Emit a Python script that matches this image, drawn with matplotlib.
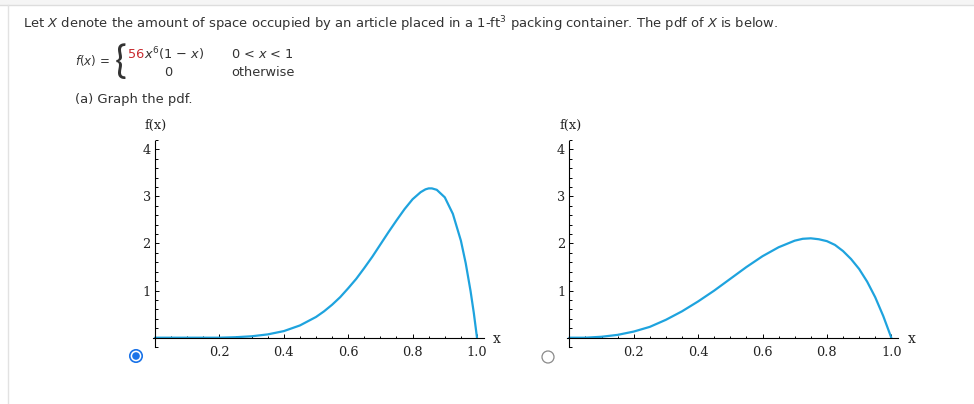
"""Two candidate pdf graphs for the packing-container problem, laid out like the web page.
Writes out.png (974x404).
"""
import matplotlib
matplotlib.use("Agg")
import matplotlib.pyplot as plt
from matplotlib.transforms import Affine2D
from matplotlib.patches import Circle, Rectangle
from matplotlib.lines import Line2D
from matplotlib.ticker import MultipleLocator, FixedLocator

W, H = 974, 404

# curve (a)
XA = [0, .05, .1, .15, .2, .25, .3, .35, .4, .45, .5, .525, .55, .575, .6, .625, .65, .675,
      .7, .725, .75, .775, .8, .825, .84, .85, .86, .875, .9, .925, .95, .965, .98, .99, 1.0]
FA = [0, 0, 0, 0, 0, .01, .03, .07, .14, .26, .44, .56, .70, .86, 1.05, 1.25, 1.48, 1.72,
      1.98, 2.24, 2.49, 2.73, 2.94, 3.09, 3.15, 3.17, 3.17, 3.14, 2.98, 2.63, 2.06, 1.58, .99, .53, 0]
# curve (b)
XB = [0, .05, .1, .15, .2, .25, .3, .35, .4, .45, .5, .55, .6, .65, .7, .725, .75, .775,
      .8, .825, .85, .875, .9, .925, .95, .975, 1.0]
FB = [0, 0, .02, .06, .13, .23, .38, .56, .77, 1.00, 1.25, 1.50, 1.73, 1.92, 2.06, 2.10, 2.11, 2.09,
      2.05, 1.97, 1.84, 1.67, 1.46, 1.19, .86, .46, 0]

X_TICKS = [0.2, 0.4, 0.6, 0.8, 1.0]
X_LABELS = ["0.2", "0.4", "0.6", "0.8", "1.0"]
Y_TICKS = [1, 2, 3, 4]
Y_LABELS = ["1", "2", "3", "4"]

TXT = "#333333"
BLUE = "#1ea3de"
SERIF = "DejaVu Serif"

fig = plt.figure(figsize=(W / 100, H / 100), dpi=100)
fig.patch.set_facecolor("white")
# pixel coordinates, origin top-left
PX = Affine2D().scale(1 / W, -1 / H).translate(0, 1) + fig.transFigure

# page chrome
fig.add_artist(Rectangle((0, 0), W, 5, transform=PX, color="#f5f5f5", lw=0))
fig.add_artist(Line2D([0, W], [5, 5], transform=PX, color="#dddddd", lw=1))
fig.add_artist(Line2D([8, 8], [5, H], transform=PX, color="#e2e2e2", lw=1))

# question text
fs = 9.42
fig.text(23, 24, r"Let $\mathit{X}$ denote the amount of space occupied by an article placed in a 1-ft$^{3}$"
         r" packing container. The pdf of $\mathit{X}$ is below.",
         transform=PX, fontsize=fs, color=TXT, va="center")
fs2 = 9.3
fig.text(75, 61, r"$\mathit{f}$($\mathit{x}$) =", transform=PX, fontsize=8.6, color=TXT, va="center")
fig.text(115, 62, "{", transform=PX, fontsize=28, color="#333333", va="center", family="Lato")
fig.text(128, 54, "56", transform=PX, fontsize=fs2, color="#c8282d", va="center")
fig.text(143.5, 54, r"$\mathit{x}^{6}$(1 $-$ $\mathit{x}$)", transform=PX, fontsize=fs2, color=TXT,
         va="center")
fig.text(168, 73, "0", transform=PX, fontsize=fs2, color=TXT, va="center", ha="center")
fig.text(231, 54, r"0 < $\mathit{x}$ < 1", transform=PX, fontsize=fs2, color=TXT, va="center")
fig.text(231, 73, "otherwise", transform=PX, fontsize=fs2, color=TXT, va="center")
fig.text(75, 100, "(a) Graph the pdf.", transform=PX, fontsize=fs, color=TXT, va="center")


def graph(x0, xs, ys):
    # x0: pixel column of x=0; 322 px per unit in x, 47.1 px per unit in y
    sx, sy, y0 = 322.0, 47.1, 337.7
    xlo, xhi, ylo, yhi = -0.03, 1.04, -0.3, 4.3
    left = x0 + xlo * sx
    ax = fig.add_axes([left / W, 1 - (y0 - ylo * sy) / H, (xhi - xlo) * sx / W, (yhi - ylo) * sy / H])
    ax.set_xlim(xlo, xhi)
    ax.set_ylim(ylo, yhi)
    ax.patch.set_alpha(0)
    for s in ("top", "right"):
        ax.spines[s].set_visible(False)
    ax.spines["left"].set_position(("data", 0))
    ax.spines["bottom"].set_position(("data", 0))
    ax.spines["left"].set_bounds(-0.19, 4.18)
    ax.spines["bottom"].set_bounds(-0.006, 1.022)
    for s in ("left", "bottom"):
        ax.spines[s].set_linewidth(0.8)
    ax.xaxis.set_major_locator(FixedLocator(X_TICKS))
    ax.set_xticklabels(X_LABELS)
    ax.xaxis.set_minor_locator(MultipleLocator(0.05))
    ax.yaxis.set_major_locator(FixedLocator(Y_TICKS))
    ax.set_yticklabels(Y_LABELS)
    ax.yaxis.set_minor_locator(MultipleLocator(0.2))
    ax.tick_params(which="both", direction="in", width=0.7, labelsize=9.3, labelcolor="#222222")
    ax.tick_params(which="major", length=3.2)
    ax.tick_params(which="minor", length=1.8)
    ax.tick_params(axis="x", which="major", pad=6)
    ax.tick_params(axis="y", which="major", pad=3)
    for lab in ax.get_xticklabels() + ax.get_yticklabels():
        lab.set_family(SERIF)
    ax.plot(xs, ys, color=BLUE, lw=1.6, solid_capstyle="round", clip_on=False)
    fig.text(x0 + 1, 125, "f(x)", transform=PX, fontsize=9.3, family=SERIF, color="#222222",
             ha="center", va="center")
    fig.text(x0 + 1.05 * sx, 339, "x", transform=PX, fontsize=10, family=SERIF, color="#222222",
             va="center")
    return ax


graph(155, XA, FA)
graph(569.3, XB, FB)

# radio buttons: first one selected
fig.add_artist(Circle((136, 356), 6.2, transform=PX, fc="white", ec="#1a73e8", lw=1.2))
fig.add_artist(Circle((136, 356), 3.8, transform=PX, fc="#1a73e8", ec="none"))
fig.add_artist(Circle((548, 357), 6.0, transform=PX, fc="white", ec="#8a8a8a", lw=0.9))

fig.savefig("out.png", dpi=100)
